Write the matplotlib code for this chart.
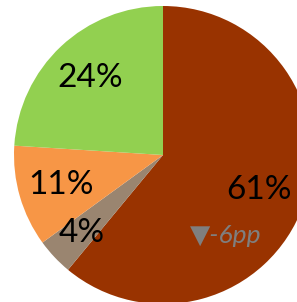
import numpy as np
import matplotlib.pyplot as plt

plt.rcParams['font.family'] = ['Lato', 'DejaVu Sans']

# slice shares, clockwise from 12 o'clock
shares = [61, 4, 11, 24]
slice_labels = ['61%', '4%', '11%', '24%']
colors = ['#993300', '#9A8570', '#F79646', '#92D050']
change_note = '\u25bc-6pp'

fig = plt.figure(figsize=(2.97, 3.02), dpi=100)
ax = fig.add_axes([0, 0, 1, 1])

wedges, _ = ax.pie(shares, colors=colors, startangle=90, counterclock=False,
                   radius=1.0, wedgeprops=dict(linewidth=0))

# place labels along each wedge's mid-angle
for i, (w, lab) in enumerate(zip(wedges, slice_labels)):
    mid = np.deg2rad((w.theta1 + w.theta2) / 2)
    r = 0.71
    if lab == '61%':
        r = 0.685
    if lab == '4%':
        mid = np.deg2rad(224)
        r = 0.755
    ax.text(r * np.cos(mid), r * np.sin(mid), lab, ha='center', va='center',
            fontsize=24, color='black')

# change annotation under the biggest slice
ax.text(0.42, -0.54, change_note, ha='center', va='center', fontsize=19,
        color='#7F7F7F', style='italic')

ax.set_xlim(-163 / 149, (297 - 163) / 149)
ax.set_ylim(-147 / 149, 155 / 149)
ax.set_aspect('auto')
ax.axis('off')

fig.savefig('out.png', dpi=100)
